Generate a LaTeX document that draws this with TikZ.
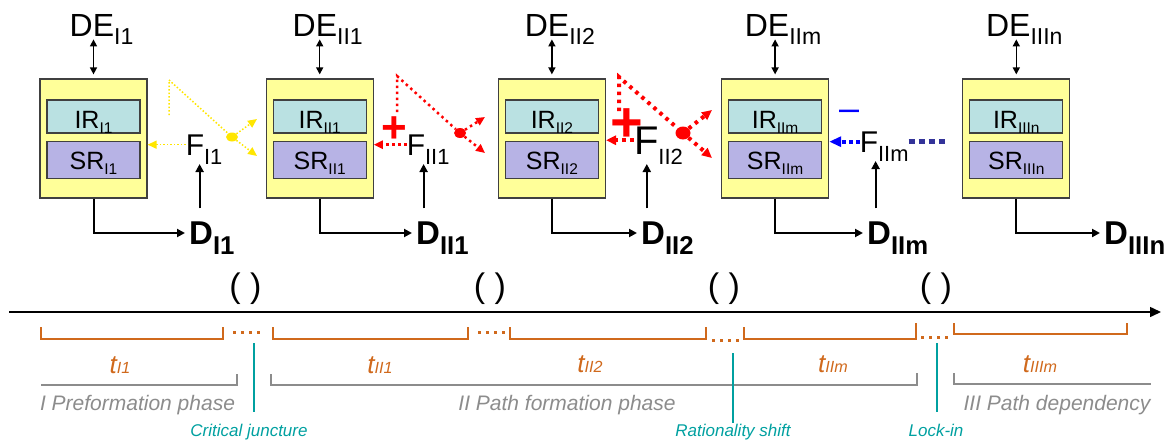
\documentclass[tikz,border=0pt]{standalone}
\usepackage{fontspec}
\setmainfont{Liberation Sans}
\usetikzlibrary{positioning,arrows.meta,shapes.geometric}

\definecolor{boxyellow}{HTML}{FFFF99}
\definecolor{irfill}{HTML}{BAE1E2}
\definecolor{srfill}{HTML}{B7B3E5}
\definecolor{framegray}{HTML}{404040}
\definecolor{dotyellow}{HTML}{FFE600}
\definecolor{navy}{HTML}{333399}
\definecolor{periodorange}{HTML}{D0691C}
\definecolor{phasegray}{HTML}{8C8C8C}
\definecolor{eventteal}{HTML}{00A0A0}

% lowered index: [size ratio]{drop in em}{text}
\newdimen\lowsize
\makeatletter
\newcommand{\sublow}[3][.7]{\lowsize=\f@size pt\lowsize=#1\lowsize
  \raisebox{-#2em}{\fontsize{\strip@pt\lowsize}{0}\selectfont #3}}
\makeatother

\begin{document}
\begin{tikzpicture}[>={Triangle[length=8pt,width=8pt]},x=1pt,y=-1pt]
  \tikzstyle{stage}=[draw=framegray,line width=1.2pt,fill=boxyellow,minimum width=107pt,minimum height=119pt,inner sep=0pt]
  \tikzstyle{irbox}=[draw=framegray,line width=1.2pt,fill=irfill,minimum width=93pt,minimum height=33pt,inner sep=0pt,text height=23pt,text depth=0pt,font=\fontsize{25}{25}\selectfont]
  \tikzstyle{srbox}=[draw=framegray,line width=1.2pt,fill=srfill,minimum width=93pt,minimum height=37pt,inner sep=0pt,text height=19pt,text depth=0pt,font=\fontsize{25}{25}\selectfont]
  \tikzstyle{extern}=[inner sep=0pt,anchor=base,font=\fontsize{32}{32}\selectfont]
  \tikzstyle{feedback}=[inner sep=0pt,text depth=0pt,anchor=base west,font=\fontsize{30}{30}\selectfont]
  \tikzstyle{decision}=[inner xsep=4pt,inner ysep=0pt,text depth=0pt,anchor=west,font=\fontsize{33}{33}\selectfont\bfseries]
  \tikzstyle{flow}=[->,line width=2pt]
  \tikzstyle{link}=[<->,line width=1.5pt,>={Triangle[length=7pt,width=7pt]}]
  \tikzstyle{weakfb}=[dotyellow,line width=1.5pt,dash pattern=on 1.5pt off 2pt]
  \tikzstyle{posfb}=[red,line width=2.5pt,dash pattern=on 2.5pt off 3.5pt]
  \tikzstyle{strongfb}=[red,line width=4pt,dash pattern=on 3.5pt off 4.5pt]
  \tikzstyle{negfb}=[blue,line width=4pt,dash pattern=on 4pt off 3pt]
  \tikzstyle{navydots}=[navy,line width=5pt,dash pattern=on 6pt off 4pt]
  \tikzstyle{fbtip}=[-{Triangle[length=9pt,width=8pt]}]
  \tikzstyle{ydot}=[ellipse,fill=dotyellow,inner sep=0pt,minimum width=12pt,minimum height=9pt]
  \tikzstyle{rdot}=[ellipse,fill=red,inner sep=0pt,minimum width=12pt,minimum height=10pt]
  \tikzstyle{plussign}=[red,inner sep=0pt,font=\fontsize{44}{44}\selectfont\bfseries]
  \tikzstyle{minussign}=[blue,inner sep=0pt,anchor=base,font=\fontsize{36}{36}\selectfont]
  \tikzstyle{cutmark}=[inner sep=0pt,font=\fontsize{34}{34}\selectfont]
  \tikzstyle{period}=[periodorange,line width=1.5pt]
  \tikzstyle{gapdots}=[periodorange,line width=3pt,dash pattern=on 3pt off 5pt]
  \tikzstyle{tlabel}=[periodorange,inner sep=0pt,anchor=base,font=\fontsize{26}{26}\selectfont\itshape]
  \tikzstyle{phase}=[phasegray,line width=1.5pt]
  \tikzstyle{phasetext}=[phasegray,inner sep=0pt,anchor=base,font=\fontsize{21}{21}\selectfont\itshape]
  \tikzstyle{event}=[eventteal,line width=1.5pt]
  \tikzstyle{eventtext}=[eventteal,inner sep=0pt,anchor=base,font=\fontsize{17}{17}\selectfont\itshape]

  \useasboundingbox (0,0) rectangle (1164,439);

  % stages
  \node[stage] (s1) at (93.5,138.5) {};
  \node[stage] (s2) [right=118pt of s1] {};
  \node[stage] (s3) [right=124pt of s2] {};
  \node[stage] (s4) [right=115pt of s3] {};
  \node[stage] (s5) [right=133pt of s4] {};

  \node[irbox] (ir1) [below=21pt of s1.north] {IR\sublow[.62]{.2}{I1}};
  \node[srbox] (sr1) [below=7pt of ir1] {SR\sublow[.62]{.2}{I1}};
  \node[irbox] (ir2) [below=21pt of s2.north] {IR\sublow[.62]{.2}{II1}};
  \node[srbox] (sr2) [below=7pt of ir2] {SR\sublow[.62]{.2}{II1}};
  \node[irbox] (ir3) [below=21pt of s3.north] {IR\sublow[.62]{.2}{II2}};
  \node[srbox] (sr3) [below=7pt of ir3] {SR\sublow[.62]{.2}{II2}};
  \node[irbox] (ir4) [below=21pt of s4.north] {IR\sublow[.62]{.2}{IIm}};
  \node[srbox] (sr4) [below=7pt of ir4] {SR\sublow[.62]{.2}{IIm}};
  \node[irbox] (ir5) [below=21pt of s5.north] {IR\sublow[.62]{.2}{IIIn}};
  \node[srbox] (sr5) [below=7pt of ir5] {SR\sublow[.62]{.2}{IIIn}};

  \node[extern] (de1) at ([xshift=8pt,yshift=42pt]s1.north) {DE\sublow[.72]{.25}{I1}};
  \node[extern] (de2) at ([xshift=8pt,yshift=42pt]s2.north) {DE\sublow[.72]{.25}{II1}};
  \node[extern] (de3) at ([xshift=8pt,yshift=42pt]s3.north) {DE\sublow[.72]{.25}{II2}};
  \node[extern] (de4) at ([xshift=8pt,yshift=42pt]s4.north) {DE\sublow[.72]{.25}{IIm}};
  \node[extern] (de5) at ([xshift=8pt,yshift=42pt]s5.north) {DE\sublow[.72]{.25}{IIIn}};

  \node[decision] (d1) at (185,233) {D\sublow[.78]{.3}{I1}};
  \node[decision] (d2) at (412,233) {D\sublow[.78]{.3}{II1}};
  \node[decision] (d3) at (637,233) {D\sublow[.78]{.3}{II2}};
  \node[decision] (d4) at (863,233) {D\sublow[.78]{.3}{IIm}};
  \node[decision] (d5) at (1100,233) {D\sublow[.78]{.3}{IIIn}};

  \node[feedback] (f1) at (185.6,155) {F\sublow[.73]{.3}{I1}};
  \node[feedback] (f2) at (406.6,155) {F\sublow[.73]{.3}{II1}};
  \node[feedback,font=\fontsize{40}{40}\selectfont] (f3) at (633.8,154) {F\sublow[.55]{.25}{II2}};
  \node[feedback] (f4) at (859.6,152) {F\sublow[.73]{.3}{IIm}};

  \path[link]
    ([yshift=4pt]s1.north) edge ([yshift=-3pt]de1.base -| s1.north)
    ([yshift=4pt]s2.north) edge ([yshift=-3pt]de2.base -| s2.north)
    ([yshift=4pt]s3.north) edge ([yshift=-3pt]de3.base -| s3.north)
    ([yshift=4pt]s4.north) edge ([yshift=-3pt]de4.base -| s4.north)
    ([yshift=4pt]s5.north) edge ([yshift=-3pt]de5.base -| s5.north);

  \draw[flow] (s1.south) |- (d1.west);
  \draw[flow] (s2.south) |- (d2.west);
  \draw[flow] (s3.south) |- (d3.west);
  \draw[flow] (s4.south) |- (d4.west);
  \draw[flow] (s5.south) |- (d5.west);

  \draw[flow,shorten <=13pt,shorten >=9pt] ([xshift=14pt]f1.base west |- d1.north) -- ([xshift=14pt]f1.base west);
  \draw[flow,shorten <=13pt,shorten >=9pt] ([xshift=17pt]f2.base west |- d2.north) -- ([xshift=17pt]f2.base west);
  \draw[flow,shorten <=13pt,shorten >=10pt] ([xshift=13pt]f3.base west |- d3.north) -- ([xshift=13pt]f3.base west);
  \draw[flow,shorten <=13pt,shorten >=9pt] ([xshift=16pt]f4.base west |- d4.north) -- ([xshift=16pt]f4.base west);

  % weak feedback I1
  \coordinate (a1) at (169,80);
  \node[ydot] (j1) at (232,137) {};
  \draw[weakfb] ([yshift=-35pt]a1) -- (a1) -- (j1);
  \draw[weakfb,fbtip] (j1) -- (257,119);
  \draw[weakfb,fbtip] (j1) -- (257,156);
  \draw[weakfb,fbtip] (f1.west) -- (s1.east |- f1.west);

  % positive feedback II1
  \coordinate (a2) at (397,76);
  \node[rdot] (j2) at (460,133) {};
  \draw[posfb] ([yshift=-36pt]a2) -- (a2) -- (j2);
  \draw[posfb,fbtip] (j2) -- (485,117);
  \draw[posfb,fbtip] (j2) -- (485,153);
  \draw[posfb,fbtip] (f2.west) -- (s2.east |- f2.west);
  \node[plussign] (pl2) at (394,129.5) {+};

  % strong positive feedback II2
  \coordinate (a3) at (619,77);
  \node[rdot,minimum width=15pt,minimum height=13pt] (j3) at (683,133) {};
  \draw[strongfb] ([yshift=-34pt]a3) -- (a3) -- (j3);
  \draw[strongfb,-{Triangle[length=10pt,width=9pt]}] (j3) -- (712,110);
  \draw[strongfb,-{Triangle[length=10pt,width=9pt]}] (j3) -- (712,158);
  \draw[strongfb,-{Triangle[length=10pt,width=9pt]}] (f3.west) -- (s3.east |- f3.west);
  \node[plussign,font=\fontsize{56}{56}\selectfont\bfseries] (pl3) at (627,125.3) {+};

  % negative feedback IIm
  \node[minussign] (mi4) at (849,120) {–};
  \draw[negfb,-{Triangle[length=12pt,width=10pt]}] (f4.west) -- (s4.east |- f4.west);
  \draw[navydots] (f4.east) -- ([xshift=-14pt]s5.west |- f4.east);

  % time axis
  \coordinate (start) at (9,312);
  \coordinate (end) at (1161,312);
  \draw[-{Triangle[length=11pt,width=10pt]},line width=1.5pt] (start) -- (end);
  \node[cutmark] (p1) at (245.5,289) {( )};
  \node[cutmark] (p2) at (490,289) {( )};
  \node[cutmark] (p3) at (724,289) {( )};
  \node[cutmark] (p4) at (936,289) {( )};

  % periods
  \draw[period] (41,327) |- (223,339) -- (223,327);
  \draw[gapdots] (233,332) -- (263,332);
  \draw[period] (273,327) |- (468,339) -- (468,327);
  \draw[gapdots] (478,332) -- (508,332);
  \draw[period] (510,327) |- (706,339) -- (706,327);
  \draw[gapdots] (712,340) -- (742,340);
  \draw[period] (744,327) |- (916,339) -- (916,323);
  \draw[gapdots] (921,337) -- (951,337);
  \draw[period] (954,323) |- (1127,334) -- (1127,323);

  \node[tlabel] (ti1) at (120,373) {t\sublow[.62]{.03}{I1}};
  \node[tlabel] (tii1) at (380,373) {t\sublow[.62]{.03}{II1}};
  \node[tlabel] (tii2) at (590,372) {t\sublow[.62]{.03}{II2}};
  \node[tlabel] (tiim) at (833,372) {t\sublow[.62]{.03}{IIm}};
  \node[tlabel] (tiiim) at (1040,372) {t\sublow[.62]{.03}{IIIm}};

  % phases
  \draw[phase] (41,385) -| (237,374);
  \draw[phase] (271,374) |- (917,385) -- (917,373);
  \draw[phase] (954,373) |- (1151,384);
  \node[phasetext] (ph1) at (137.5,410) {I Preformation phase};
  \node[phasetext] (ph2) at (567,410) {II Path formation phase};
  \node[phasetext] (ph3) at (1057,410) {III Path dependency};

  % events
  \node[eventtext] (cj) at (249,436) {Critical juncture};
  \node[eventtext] (rs) at (733,436) {Rationality shift};
  \node[eventtext] (li) at (936,436) {Lock-in};
  \coordinate (cjtop) at (254,343);
  \coordinate (rstop) at (733,353);
  \coordinate (litop) at (937,343);
  \draw[event,shorten >=11pt] (cjtop) -- (cjtop |- cj.north);
  \draw[event] (rstop) -- (rstop |- rs.north);
  \draw[event,shorten >=11pt] (litop) -- (litop |- li.north);
\end{tikzpicture}
\end{document}
